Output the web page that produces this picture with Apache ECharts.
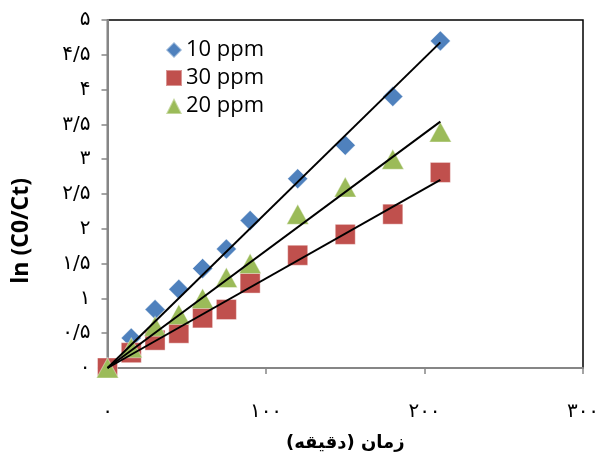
<!DOCTYPE html>
<html><head><meta charset="utf-8">
<script src="https://cdn.jsdelivr.net/npm/echarts@6/dist/echarts.min.js"></script>
<style>html,body{margin:0;padding:0;background:#fff}#c{width:606px;height:457px}</style>
</head><body><div id="c"></div>
<script>
var times = [0, 15, 30, 45, 60, 75, 90, 120, 150, 180, 210];
var ppm10 = [0, 0.43, 0.84, 1.13, 1.43, 1.71, 2.12, 2.72, 3.2, 3.9, 4.7];
var ppm30 = [0, 0.22, 0.4, 0.5, 0.72, 0.84, 1.22, 1.62, 1.92, 2.21, 2.81];
var ppm20 = [0, 0.29, 0.6, 0.77, 1.0, 1.3, 1.5, 2.21, 2.6, 3.0, 3.39];
var seriesNames = ['10 ppm', '30 ppm', '20 ppm'];
var xTicks = [0, 100, 200, 300];
var yTicks = [0, 0.5, 1, 1.5, 2, 2.5, 3, 3.5, 4, 4.5, 5];

function fa(v){
  var s = String(v).replace('.', '/');
  var d = '۰۱۲۳۴۵۶۷۸۹';
  return s.replace(/[0-9]/g, function(c){return d[+c];});
}
function pts(ys){ return times.map(function(t,i){return [t, ys[i]];}); }
function fit(ys){ // least squares through origin (Excel trendline, intercept 0)
  var sxy=0, sxx=0;
  times.forEach(function(t,i){ sxy += t*ys[i]; sxx += t*t; });
  var k = sxy/sxx, xe = times[times.length-1];
  return [[0,0],[xe,k*xe]];
}
var colors = ['#4F81BD', '#C0504D', '#9BBB59'];
var symbols = ['diamond', 'rect', 'triangle'];
var sizes = [[20,20],[20,20],[22,20]];
var datas = [ppm10, ppm30, ppm20];

var series = [];
datas.forEach(function(ys, i){
  series.push({
    name: seriesNames[i], type: 'scatter', data: pts(ys),
    symbol: symbols[i], symbolSize: sizes[i],
    itemStyle: {color: colors[i], opacity: 1, borderColor: 'rgba(255,255,255,0.4)', borderWidth: 1},
    z: 2
  });
});
datas.forEach(function(ys, i){
  series.push({
    name: 'trend' + i, type: 'line', data: fit(ys), symbol: 'none',
    lineStyle: {color: '#000', width: 2}, z: 5, silent: true
  });
});

var chart = echarts.init(document.getElementById('c'), null, {renderer: 'canvas'});
chart.setOption({
  animation: false,
  backgroundColor: '#fff',
  grid: {left: 107.5, right: 23, top: 20, bottom: 85, show: true, borderColor: '#000', borderWidth: 1.5, backgroundColor: 'transparent'},
  legend: {
    data: seriesNames, orient: 'vertical', left: 160, top: 34, itemGap: 6,
    itemWidth: 16, itemHeight: 16,
    itemStyle: {opacity: 1},
    textStyle: {fontFamily: 'Open Sans', fontSize: 22, color: '#000', padding: [0,0,0,-1]}
  },
  xAxis: {
    type: 'value', min: 0, max: 300, interval: 100,
    axisLine: {show: true, onZero: false, lineStyle: {color: '#868686', width: 2}},
    axisTick: {show: true, length: 6, lineStyle: {color: '#868686', width: 1.5}},
    splitLine: {show: false},
    axisLabel: {margin: 34, formatter: function(v){return fa(v);}, fontFamily: 'DejaVu Sans', fontSize: 20, color: '#000'},
    name: 'زمان (دقیقه)', nameLocation: 'middle', nameGap: 66,
    nameTextStyle: {fontFamily: 'DejaVu Sans', fontWeight: 'bold', fontSize: 18, color: '#000'}
  },
  yAxis: {
    type: 'value', min: 0, max: 5, interval: 0.5,
    axisLine: {show: true, onZero: false, lineStyle: {color: '#868686', width: 2}},
    axisTick: {show: true, length: 6, lineStyle: {color: '#868686', width: 1.5}},
    splitLine: {show: false},
    axisLabel: {margin: 17, align: 'right', formatter: function(v){return '\u200E' + fa(v) + '\u200E';}, fontFamily: 'DejaVu Sans', fontSize: 20, color: '#000'}
  },
  graphic: [{
    type: 'text', left: 10, top: 178, rotation: Math.PI / 2,
    style: {text: 'ln (C0/Ct)', font: 'bold 23px "Open Sans"', fill: '#000'}
  }],
  series: series
});
</script></body></html>
